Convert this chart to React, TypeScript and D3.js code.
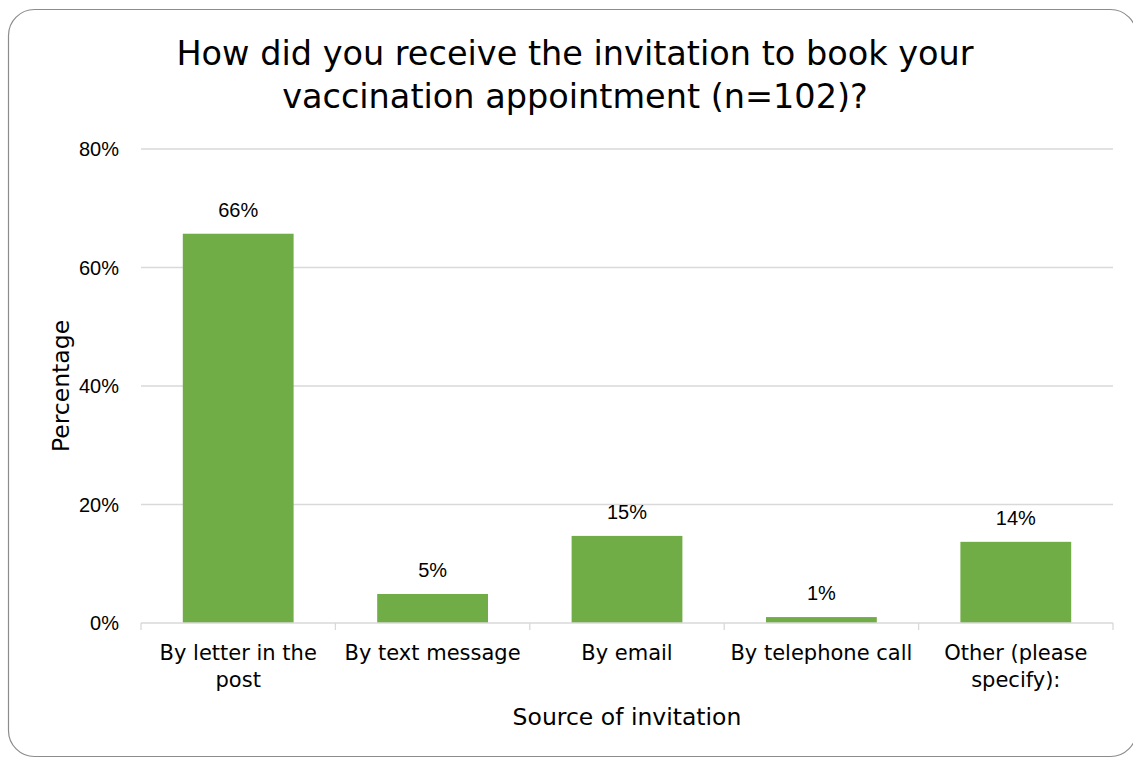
import React from "react";
import * as d3 from "d3";

const categories: string[][] = [
  ["By letter in the", "post"],
  ["By text message"],
  ["By email"],
  ["By telephone call"],
  ["Other (please", "specify):"],
];
const values: number[] = [65.7, 4.9, 14.7, 1.0, 13.7];
const yTicks: number[] = [0, 20, 40, 60, 80];
const titleLines: string[] = [
  "How did you receive the invitation to book your",
  "vaccination appointment (n=102)?",
];
const xTitle = "Source of invitation";
const yTitle = "Percentage";

const W = 1133;
const H = 758;
const left = 141;
const right = 1113;
const top = 149;
const bottom = 623;
const FONT = "'DejaVu Sans', Verdana, sans-serif";
const LABEL_FONT = "'Liberation Sans', Arial, sans-serif";

export default function App() {
  const keys = categories.map((c) => c.join(" "));
  const x = d3.scaleBand<string>().domain(keys).range([left, right]).paddingInner(0.43).paddingOuter(0.215);
  const xb = d3.scaleBand<string>().domain(keys).range([left, right]);
  const y = d3.scaleLinear().domain([0, 80]).range([bottom, top]);
  const tickXs = [left, ...keys.map((k) => (xb(k) as number) + xb.bandwidth())];

  return (
    <svg width={W} height={H} style={{ position: "absolute", left: 0, top: 0, background: "#fff" }}>
      <rect x={8.5} y={9.5} width={1128} height={747} rx={26} ry={26} fill="#fff" stroke="#8c8c8c" strokeWidth={1.2} />
      <g fontFamily={FONT} fill="#000">
        {titleLines.map((t, i) => (
          <text key={i} x={575} y={65 + i * 43} textAnchor="middle" fontSize={33.5}>
            {t}
          </text>
        ))}
      </g>
      {yTicks.map((t) => (
        <g key={t}>
          {t !== 0 && <line x1={left} x2={right} y1={y(t)} y2={y(t)} stroke="#d9d9d9" strokeWidth={1.3} />}
          <text x={119} y={y(t)} dy="0.36em" textAnchor="end" fontFamily={LABEL_FONT} fontSize={20}>
            {`${t}%`}
          </text>
        </g>
      ))}
      {keys.map((k, i) => (
        <g key={k}>
          <rect x={x(k)} y={y(values[i])} width={x.bandwidth()} height={y(0) - y(values[i])} fill="#70ad47" />
          <text x={(x(k) as number) + x.bandwidth() / 2} y={y(values[i]) - 17} textAnchor="middle" fontFamily={LABEL_FONT} fontSize={20}>
            {`${Math.round(values[i])}%`}
          </text>
        </g>
      ))}
      <line x1={left} x2={right} y1={bottom} y2={bottom} stroke="#d9d9d9" strokeWidth={1.3} />
      {tickXs.map((tx, i) => (
        <line key={i} x1={tx} x2={tx} y1={bottom} y2={bottom + 7} stroke="#d9d9d9" strokeWidth={1.3} />
      ))}
      {categories.map((lines, i) => (
        <text key={i} x={(xb(keys[i]) as number) + xb.bandwidth() / 2} y={660} textAnchor="middle" fontFamily={FONT} fontSize={21}>
          {lines.map((l, j) => (
            <tspan key={j} x={(xb(keys[i]) as number) + xb.bandwidth() / 2} dy={j === 0 ? 0 : 27}>
              {l}
            </tspan>
          ))}
        </text>
      ))}
      <text x={(left + right) / 2} y={725} textAnchor="middle" fontFamily={FONT} fontSize={23.5}>
        {xTitle}
      </text>
      <text transform={`translate(69, ${(top + bottom) / 2}) rotate(-90)`} textAnchor="middle" fontFamily={FONT} fontSize={23.5}>
        {yTitle}
      </text>
    </svg>
  );
}
